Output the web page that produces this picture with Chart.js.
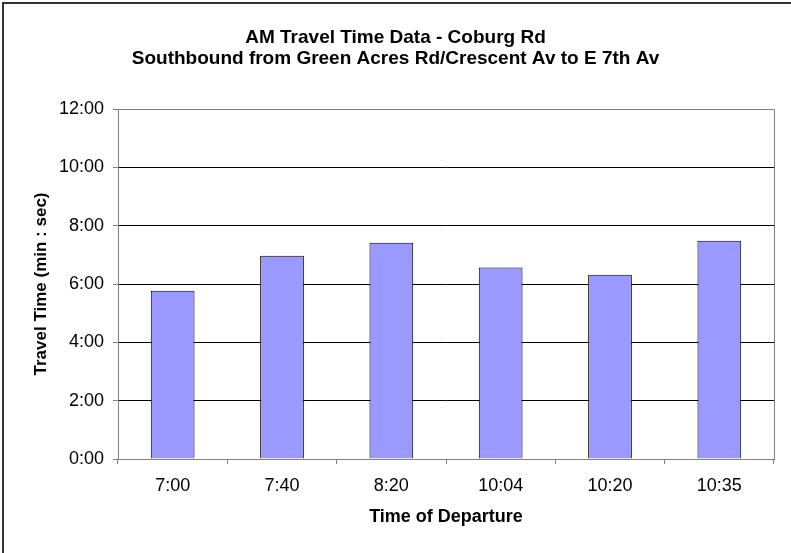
<!DOCTYPE html>
<html>
<head>
<meta charset="utf-8">
<script src="https://cdn.jsdelivr.net/npm/chart.js@4.4.1/dist/chart.umd.min.js"></script>
<style>
  html, body { margin: 0; padding: 0; background: #fff; }
  #wrap { width: 791px; height: 553px; }
</style>
</head>
<body>
<div id="wrap"><canvas id="myChart" width="791" height="553"></canvas></div>
<script>
// departure times and travel times (seconds)
const departures = ['7:00', '7:40', '8:20', '10:04', '10:20', '10:35']
const travelSecs = [346, 418, 445, 394, 379, 449]
const yTicks = [0, 120, 240, 360, 480, 600, 720]
const titleLines = ['AM Travel Time Data - Coburg Rd', 'Southbound from Green Acres Rd/Crescent Av to E 7th Av']

const fontFam = '"Liberation Sans", Arial, sans-serif'

function fmtTime(v) {
  let m = Math.floor(v / 60), s = Math.round(v % 60)
  return m + ':' + (s < 10 ? '0' : '') + s
}

// frame round the plot (top/right) and the outer border
const framePlugin = {
  id: 'frame',
  afterDraw(chart) {
    const c = chart.ctx, a = chart.chartArea
    c.save()
    c.strokeStyle = '#808080'
    c.lineWidth = 1
    c.beginPath()
    c.moveTo(a.left, a.top + 0.5)
    c.lineTo(a.right + 0.5, a.top + 0.5)
    c.lineTo(a.right + 0.5, a.bottom)
    c.stroke()
    c.strokeStyle = '#333'
    c.lineWidth = 2
    c.beginPath()
    c.moveTo(3, chart.height)
    c.lineTo(3, 3)
    c.lineTo(chart.width, 3)
    c.stroke()
    c.restore()
  }
}

const ctx = document.getElementById('myChart')
const myChart = new Chart(ctx, {
  type: 'bar',
  data: {
    labels: departures,
    datasets: [{
      label: 'Travel Time',
      data: travelSecs,
      backgroundColor: '#9999FF',
      borderColor: '#000000',
      borderWidth: 1,
      borderSkipped: 'bottom',
      categoryPercentage: 1,
      barPercentage: 0.4
    }]
  },
  options: {
    responsive: false,
    animation: false,
    layout: { padding: { left: 17, right: 17, top: 0, bottom: 0 } },
    plugins: {
      legend: { display: false },
      tooltip: { enabled: false },
      title: {
        display: true,
        text: titleLines,
        color: '#000',
        font: { family: fontFam, size: 19, weight: 'bold', lineHeight: '21px' },
        padding: { top: 27, bottom: 40 }
      }
    },
    scales: {
      x: {
        offset: true,
        grid: {
          offset: true,
          drawOnChartArea: false,
          tickLength: 5,
          color: '#808080'
        },
        border: { color: '#808080' },
        ticks: {
          color: '#000',
          padding: 11,
          maxRotation: 0,
          font: { family: fontFam, size: 18 }
        },
        title: {
          display: true,
          text: 'Time of Departure',
          color: '#000',
          font: { family: fontFam, size: 18, weight: 'bold', lineHeight: '20px' },
          padding: { top: 0, bottom: 26 }
        },
        afterFit(scale) { scale.height = 94 }
      },
      y: {
        min: 0,
        max: 720,
        afterBuildTicks(scale) { scale.ticks = yTicks.map(v => ({ value: v })) },
        grid: {
          color: c => (c.tick && (c.tick.value === 0 || c.tick.value === 720)) ? '#808080' : '#000',
          tickColor: '#808080',
          tickLength: 5
        },
        border: { color: '#808080' },
        ticks: {
          color: '#000',
          padding: 9,
          font: { family: fontFam, size: 18 },
          callback: v => fmtTime(v)
        },
        title: {
          display: true,
          text: 'Travel Time (min : sec)',
          color: '#000',
          font: { family: fontFam, size: 17, weight: 'bold', lineHeight: '20px' },
          padding: { top: 14, bottom: 0 }
        },
        afterFit(scale) { scale.width = 101 }
      }
    }
  },
  plugins: [framePlugin]
})
</script>
</body>
</html>
